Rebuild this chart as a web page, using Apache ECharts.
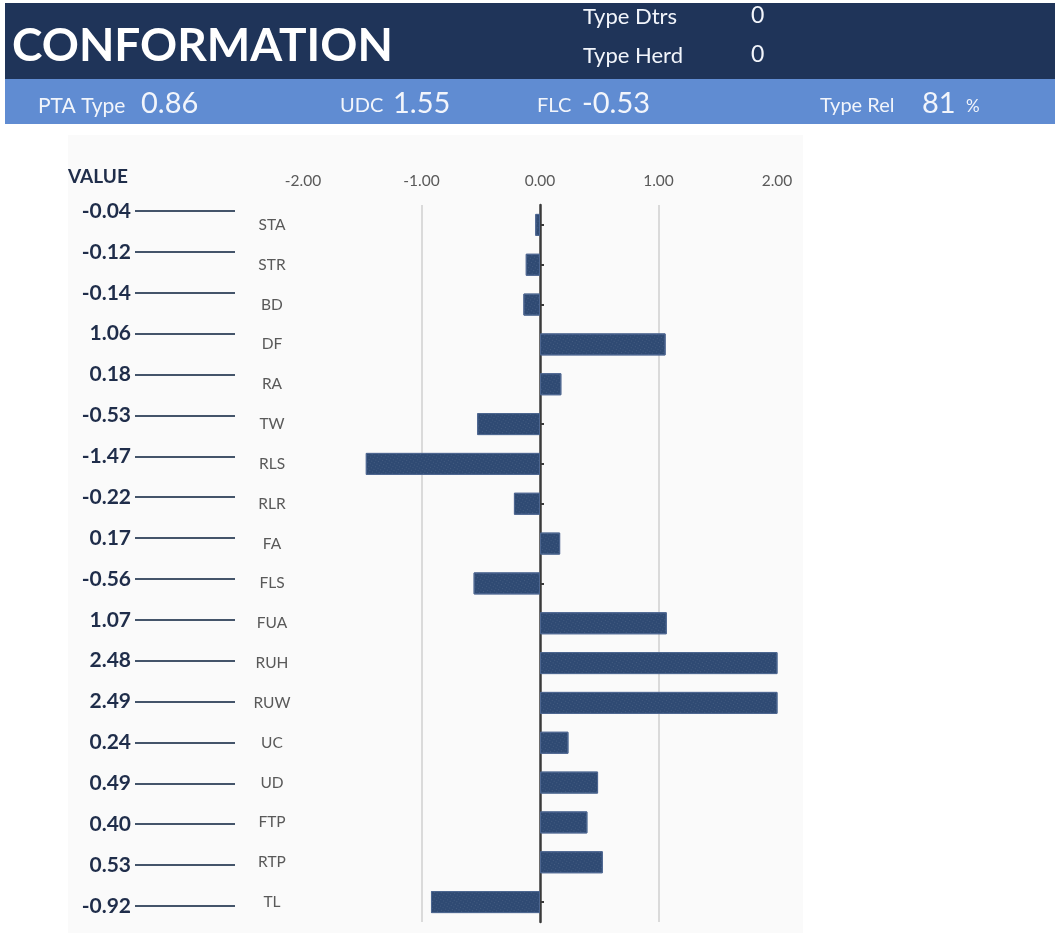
<!DOCTYPE html>
<html>
<head>
<meta charset="utf-8">
<script src="https://cdn.jsdelivr.net/npm/echarts@6/dist/echarts.min.js"></script>
<style>
  html, body { margin: 0; padding: 0; background: #fff; }
  #main { width: 1061px; height: 948px; }
</style>
</head>
<body>
<div id="main"></div>
<script>
// traits, top to bottom
var traits = ['STA','STR','BD','DF','RA','TW','RLS','RLR','FA','FLS','FUA','RUH','RUW','UC','UD','FTP','RTP','TL'];
var traitValues = [-0.04,-0.12,-0.14,1.06,0.18,-0.53,-1.47,-0.22,0.17,-0.56,1.07,2.48,2.49,0.24,0.49,0.40,0.53,-0.92];
var axisTicks = [-2, -1, 0, 1, 2];

// header figures
var typeDtrs = 0;
var typeHerd = 0;
var ptaType = 0.86;
var udc = 1.55;
var flc = -0.53;
var typeRel = 81;

var font = 'Lato, "Open Sans", sans-serif';
var chart = echarts.init(document.getElementById('main'));

function txt(x, y, s, size, bold, color) {
	return {
		type: 'text', x: x, y: y, z: 10,
		style: {
			text: s, fill: color || '#f2f5fb', font: (bold ? 'bold ' : '') + size + 'px ' + font,
			textVerticalAlign: 'middle'
		}
	};
}

var option = {
	animation: false,
	aria: { enabled: true, decal: { show: true } },
	graphic: [
		{ type: 'rect', z: -10, shape: { x: 68, y: 135, width: 735, height: 798 }, style: { fill: '#fafafa' } },
		{ type: 'rect', shape: { x: 5, y: 3, width: 1050, height: 76 }, style: { fill: '#1f3459' } },
		{ type: 'rect', shape: { x: 5, y: 79, width: 1050, height: 45 }, style: { fill: '#608cd2' } },
		txt(12, 46, 'CONFORMATION', 46, true, '#ffffff'),
		txt(583, 17, 'Type Dtrs', 22),
		txt(751, 16, String(typeDtrs), 23),
		txt(583, 56, 'Type Herd', 22),
		txt(751, 55, String(typeHerd), 23),
		txt(38, 106, 'PTA Type', 21),
		txt(141, 104, ptaType.toFixed(2), 29),
		txt(340, 106, 'UDC', 20),
		txt(393, 104, udc.toFixed(2), 29),
		txt(537, 106, 'FLC', 20),
		txt(582, 104, flc.toFixed(2), 29),
		txt(820, 106, 'Type Rel', 20),
		txt(922, 104, String(typeRel), 29),
		txt(966, 107, '%', 17),
		txt(68, 177, 'VALUE', 19, true, '#1f2d4a')
	],
	grid: [
		{ left: 303, right: 284, top: 205, bottom: 26 },
		{ left: 135, width: 100, top: 211, height: 695 }
	],
	xAxis: [
		{
			type: 'value', gridIndex: 0, position: 'top',
			min: axisTicks[0], max: axisTicks[axisTicks.length - 1], interval: 1,
			axisLine: { show: false }, axisTick: { show: false },
			axisLabel: {
				margin: 16, color: '#595959', fontSize: 15.5, fontFamily: font,
				formatter: function (v) { return v.toFixed(2); }
			},
			splitLine: {
				show: true,
				lineStyle: { color: ['rgba(0,0,0,0)', '#cfcfcf', 'rgba(0,0,0,0)', '#cfcfcf'], width: 1.5 }
			}
		},
		{ type: 'value', gridIndex: 1, min: 0, max: 1, show: false }
	],
	yAxis: [
		{
			// trait names
			type: 'category', gridIndex: 0, position: 'left', inverse: true, data: traits,
			axisLine: { show: false, onZero: false }, axisTick: { show: false },
			axisLabel: { margin: 31, align: 'center', color: '#595959', fontSize: 15.5, fontFamily: font },
			splitLine: { show: false }
		},
		{
			// axis at zero
			type: 'category', gridIndex: 0, position: 'right', inverse: true, data: traits,
			axisLine: { show: true, onZero: true, lineStyle: { color: '#3a3a3a', width: 2.5 } },
			axisTick: { show: true, alignWithLabel: true, length: 4, lineStyle: { color: '#3a3a3a', width: 2 } },
			axisLabel: { show: false },
			splitLine: { show: false }
		},
		{
			// value column
			type: 'category', gridIndex: 1, position: 'left', inverse: true, boundaryGap: false,
			data: traitValues.map(function (v) { return v.toFixed(2); }),
			axisLine: { show: false }, axisTick: { show: false },
			axisLabel: {
				margin: 4, color: '#1f2d4a', fontSize: 21, fontWeight: 'bold', fontFamily: font,
				padding: [12, 0, 0, 0]
			},
			splitLine: { show: true, lineStyle: { color: '#44546a', width: 2 } }
		}
	],
	series: [
		{
			type: 'bar', xAxisIndex: 0, yAxisIndex: 0,
			data: traitValues, barWidth: 22, clip: true,
			itemStyle: {
				color: '#2f4a73', borderColor: '#4d6690', borderWidth: 1,
				decal: {
					symbol: 'rect', symbolSize: 1, color: 'rgba(255,255,255,0.10)',
					dashArrayX: [1, 2], dashArrayY: [1, 2]
				}
			}
		}
	]
};

chart.setOption(option);
</script>
</body>
</html>
